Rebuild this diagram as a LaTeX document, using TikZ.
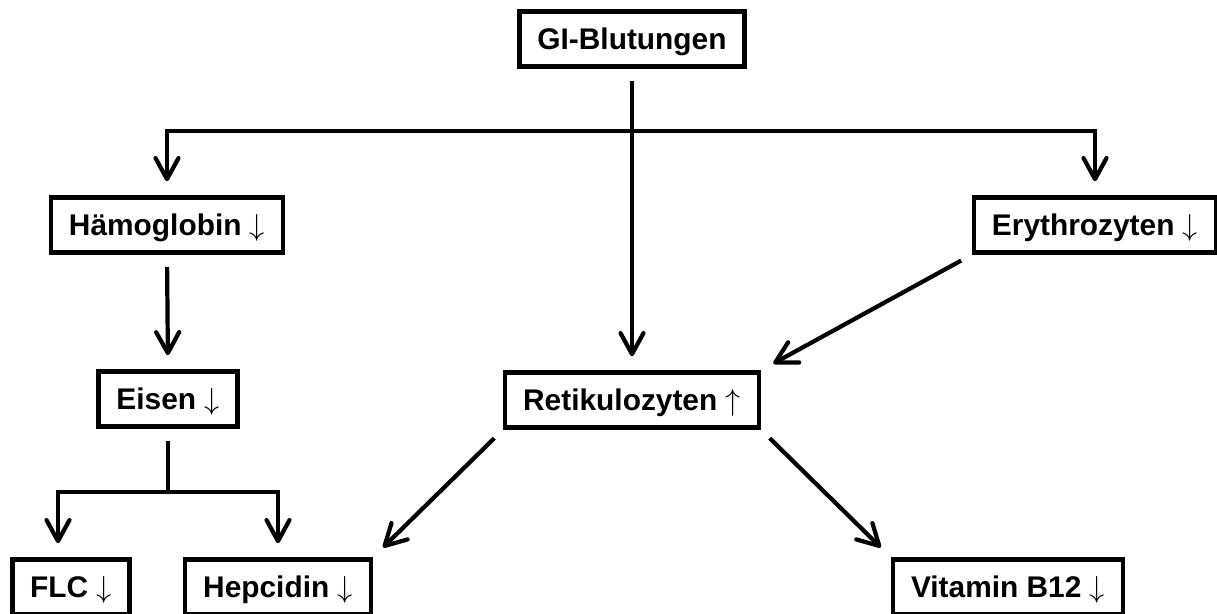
\documentclass[tikz,border=0pt]{standalone}
\usepackage{fontspec}
\setmainfont{Liberation Sans}
\usepackage{tikz}
\usetikzlibrary{arrows.meta, positioning, calc}

\tikzset{
  box/.style={draw, line width=2.6pt, inner xsep=0.36cm, inner ysep=0pt,
    minimum height=1.1cm, text height=12.2pt, text depth=0pt,
    font=\fontsize{17}{20}\selectfont\bfseries},
  arr/.style={line width=2.4pt, shorten <=0.24cm, shorten >=0.28cm,
    -{Straight Barb[length=0.42cm, width=0.46cm, round]}},
  ln/.style={line width=2.4pt, shorten <=0.24cm}
}
\newcommand{\dn}{$\downarrow$}
\newcommand{\up}{$\uparrow$}

\begin{document}
\begin{tikzpicture}[x=0.02cm, y=-0.02cm]
\useasboundingbox (0,0) rectangle (1217,614);
% Boxes
\node[box] (gi) at (632,39) {GI-Blutungen};
\node[box] (hb) at (167,225) {Hämoglobin \dn};
\node[box] (ery) at (1095,225) {Erythrozyten \dn};
\node[box] (eisen) at (168,399) {Eisen \dn};
\node[box] (ret) at (632,400) {Retikulozyten \up};
\node[box] (flc) at (71,587) {FLC \dn};
\node[box] (hep) at (278,587) {Hepcidin \dn};
\node[box] (vit) at (1008,587) {Vitamin B12 \dn};
% Branch points
\coordinate (bar) at (632,131);
\coordinate (split) at (168,492);
% Arrows
\draw[arr] (gi.south) -- (ret.north);
\draw[arr, shorten <=0pt] (bar) -| (hb.north);
\draw[arr, shorten <=0pt] (bar) -| (ery.north);
\draw[arr] (hb.south) -- (eisen.north);
\draw[ln] (eisen.south) -- (split);
\draw[arr, shorten <=0pt] (split) -| ([xshift=-0.26cm]flc.north);
\draw[arr, shorten <=0pt] (split) -| (hep.north);
\draw[arr] (ery.south west) -- (ret.north east);
\draw[arr] (ret.south west) -- (hep.north east);
\draw[arr] (ret.south east) -- (vit.north west);
\end{tikzpicture}
\end{document}
